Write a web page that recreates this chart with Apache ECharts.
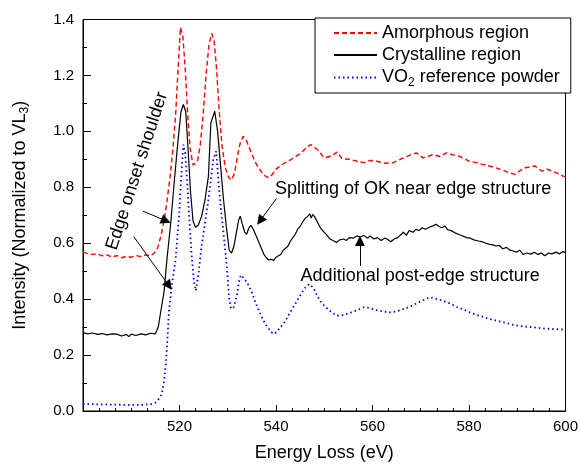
<!DOCTYPE html>
<html><head><meta charset="utf-8">
<script src="https://cdn.jsdelivr.net/npm/echarts@6/dist/echarts.min.js"></script>
<style>html,body{margin:0;padding:0;background:#fff}#c{width:581px;height:467px}</style>
</head><body><div id="c"></div>
<script>
const seriesNames = ['Amorphous region', 'Crystalline region', 'VO2 reference powder'];
const xTickLabels = [520, 540, 560, 580, 600];
const yTickLabels = ['0.0', '0.2', '0.4', '0.6', '0.8', '1.0', '1.2', '1.4'];

const amorphousE = [500,501,502,503,504,505,506,507,508,509,510,511,512,513,514,514.8,515.5,516.2,516.8,517.4,518,518.6,519.2,519.7,520.2,520.7,521.2,521.7,522.2,522.8,523.2,523.7,524.3,524.9,525.5,526.1,526.7,527.2,527.7,528.2,528.8,529.5,530.2,530.8,531.4,532,532.6,533.2,533.8,534.5,535.2,536,537,537.8,538.5,539.2,540,540.8,541.6,542.4,543.2,544,544.8,545.6,546.4,547.2,548.6,550,551.3,552.7,553.7,555.4,556.8,558.2,559.5,560.9,562.6,564.3,566.4,567.8,569.1,570.5,572.6,574,575.3,576.7,578,580.1,581.5,582.8,584.2,585.5,586.9,588.3,589.6,590.6,591.7,593.7,595.1,596.2,597.2,598.4,599.5,600];
const amorphousI = [0.568,0.563,0.56,0.562,0.555,0.558,0.55,0.556,0.548,0.553,0.55,0.556,0.552,0.558,0.555,0.565,0.585,0.63,0.68,0.75,0.83,0.93,1.06,1.22,1.372,1.34,1.22,1.06,0.94,0.88,0.873,0.89,0.95,1.06,1.2,1.31,1.35,1.32,1.22,1.08,0.95,0.87,0.835,0.826,0.85,0.91,0.96,0.982,0.97,0.94,0.91,0.88,0.855,0.84,0.834,0.845,0.865,0.875,0.885,0.893,0.9,0.91,0.918,0.93,0.943,0.953,0.935,0.905,0.911,0.926,0.902,0.9,0.893,0.888,0.896,0.893,0.886,0.888,0.905,0.915,0.923,0.905,0.917,0.91,0.923,0.916,0.911,0.893,0.888,0.882,0.876,0.87,0.862,0.852,0.846,0.86,0.87,0.876,0.858,0.865,0.858,0.85,0.84,0.838];

const crystallineE = [500,501,502,503,504,505,506,507,508,509,509.5,510,511,512,513,514,515,515.6,516.1,516.8,517.4,518.2,518.9,519.6,520.3,520.8,521.3,521.8,522.3,522.8,523.3,523.9,524.6,525.3,526,526.5,527.3,527.9,528.5,529.1,529.7,530.3,530.8,531.3,531.8,532.3,532.6,533,533.5,533.9,534.4,534.8,535.3,535.9,536.4,536.9,537.5,538,538.5,539,539.5,540,540.5,541,541.5,542,542.5,543,543.5,544,544.5,545,545.5,546,546.6,547,547.3,547.6,548,548.6,549.2,550,550.6,551.2,552,552.6,553.2,554,554.6,555.2,556,556.8,557.5,558.2,559,559.5,560.3,561,561.8,562.5,563,563.8,564.5,565.2,566,566.4,567,567.6,568.4,569,569.6,570.3,571,571.8,572.5,573.2,573.8,574.4,575,575.6,576.3,577,577.8,578.7,579.5,580.3,581,582,582.8,583.5,584.3,585,585.5,586.3,587,587.8,588.5,589,589.8,590.5,591.2,592,592.8,593.5,594.3,595,595.7,596.5,597.2,598,598.8,599.5,600];
const crystallineI = [0.28,0.276,0.279,0.274,0.277,0.272,0.276,0.275,0.268,0.274,0.266,0.275,0.27,0.276,0.272,0.278,0.276,0.3,0.354,0.426,0.543,0.675,0.817,0.95,1.07,1.096,1.07,0.93,0.78,0.68,0.657,0.665,0.697,0.757,0.84,1.03,1.072,1.0,0.88,0.76,0.66,0.575,0.565,0.59,0.64,0.685,0.697,0.67,0.64,0.632,0.655,0.664,0.65,0.626,0.605,0.585,0.56,0.548,0.54,0.543,0.538,0.55,0.555,0.56,0.575,0.582,0.59,0.608,0.62,0.632,0.65,0.66,0.675,0.688,0.697,0.705,0.69,0.703,0.695,0.675,0.655,0.639,0.628,0.615,0.608,0.603,0.612,0.615,0.61,0.62,0.618,0.626,0.622,0.628,0.618,0.626,0.615,0.62,0.61,0.618,0.615,0.605,0.615,0.62,0.632,0.64,0.628,0.645,0.639,0.65,0.645,0.655,0.65,0.657,0.662,0.668,0.66,0.655,0.662,0.648,0.645,0.638,0.632,0.626,0.62,0.618,0.612,0.608,0.605,0.6,0.596,0.594,0.59,0.592,0.58,0.585,0.575,0.573,0.568,0.575,0.56,0.565,0.561,0.568,0.56,0.565,0.555,0.565,0.562,0.568,0.562,0.57,0.566];

const vo2E = [500,503,506,509,512,514,515,515.8,516.3,516.8,517.2,517.5,517.8,518.4,519.2,519.9,520.4,520.8,521.2,521.6,522,522.5,523,523.4,524,524.5,525,526,527,527.6,528.1,528.6,529.1,529.8,530.3,530.7,531.2,531.9,532.3,532.7,533.5,534.3,535,535.7,536.3,537.2,538,539,539.7,540.5,541.8,543,544,545,546,546.9,547.8,548.5,549.5,550.7,551.7,552.7,554,555.5,557,558.2,559.5,561,562.5,563.7,565,566.5,568,569.5,571,571.9,573,574.5,576,577.5,579,580.5,582,583.5,585.5,587.5,589.5,591.5,593.5,595.5,597.5,600];
const vo2I = [0.025,0.024,0.023,0.022,0.022,0.024,0.03,0.045,0.06,0.105,0.176,0.258,0.354,0.448,0.543,0.697,0.85,0.953,0.92,0.817,0.697,0.56,0.46,0.43,0.5,0.58,0.639,0.757,0.9,0.929,0.817,0.72,0.639,0.519,0.4,0.365,0.37,0.413,0.46,0.486,0.472,0.45,0.425,0.39,0.365,0.33,0.306,0.282,0.276,0.29,0.318,0.355,0.383,0.413,0.44,0.454,0.44,0.413,0.385,0.365,0.35,0.341,0.343,0.352,0.362,0.371,0.368,0.36,0.355,0.353,0.356,0.365,0.375,0.388,0.4,0.407,0.402,0.395,0.385,0.372,0.362,0.35,0.341,0.333,0.324,0.316,0.307,0.302,0.299,0.295,0.293,0.291];

// annotation arrows: [fromE, fromI, toE, toI]
const arrows = [[512.4,0.715,517.2,0.68],[510.5,0.624,517.8,0.448],[540.1,0.76,536.7,0.68],[557.4,0.519,557.4,0.608]];
// annotation texts: [text, E, I, rotationDeg, align]
const notes = [['Edge onset shoulder',511.2,0.858,72,'center'],['Splitting of OK near edge structure',539.8,0.793,0,'left'],['Additional post-edge structure',545.1,0.483,0,'left']];

const zip = (a, b) => a.map((x, i) => [x, b[i]]);
const FONT = '"Liberation Sans", Arial, sans-serif';
const chart = echarts.init(document.getElementById('c'), null, {renderer: 'canvas'});
const option = {
  animation: false,
  backgroundColor: '#fff',
  grid: {left: 83, right: 11, top: 19.5, bottom: 54.5, show: true, borderColor: '#000', borderWidth: 1, backgroundColor: 'transparent'},
  legend: {
    orient: 'vertical', left: 315, top: 18,
    padding: [4, 11, 4, 18], itemGap: 0, itemWidth: 43, itemHeight: 14,
    backgroundColor: '#fff', borderColor: '#000', borderWidth: 1, borderRadius: 0,
    itemStyle: {opacity: 0},
    data: seriesNames,
    formatter: n => n === 'VO2 reference powder' ? '{n|VO}{s|2}{n| reference powder}' : n,
    textStyle: {fontFamily: FONT, fontSize: 18, color: '#000', lineHeight: 22,
      rich: {n: {fontFamily: FONT, fontSize: 18, color: '#000', lineHeight: 22}, s: {fontFamily: FONT, fontSize: 12, color: '#000', lineHeight: 12, padding: [11, 0, 0, 0]}}}
  },
  xAxis: {
    type: 'value', min: 500, max: 600, interval: 20,
    name: 'Energy Loss (eV)', nameLocation: 'middle', nameGap: 33,
    nameTextStyle: {fontFamily: FONT, fontSize: 18, color: '#000'},
    axisLine: {lineStyle: {color: '#000', width: 1}},
    axisTick: {inside: true, length: 6, lineStyle: {color: '#000'}},
    minorTick: {show: true, splitNumber: 6, length: 3, lineStyle: {color: '#000'}},
    splitLine: {show: false},
    axisLabel: {showMinLabel: false, margin: 8, fontFamily: FONT, fontSize: 15, color: '#000',
      formatter: v => xTickLabels.includes(v) ? String(v) : ''}
  },
  yAxis: {
    type: 'value', min: 0, max: 1.4, interval: 0.2,
    name: 'Intensity (Normalized to VL{s|3})', nameLocation: 'middle', nameGap: 52, nameRotate: 90,
    nameTextStyle: {fontFamily: FONT, fontSize: 18, color: '#000',
      rich: {s: {fontFamily: FONT, fontSize: 12, color: '#000', padding: [10, 0, 0, 0]}}},
    axisLine: {show: true, lineStyle: {color: '#000', width: 1}},
    axisTick: {show: true, inside: true, length: 8, lineStyle: {color: '#000'}},
    minorTick: {show: true, splitNumber: 2, length: 4, lineStyle: {color: '#000'}},
    splitLine: {show: false},
    axisLabel: {margin: 9, fontFamily: FONT, fontSize: 15, color: '#000',
      formatter: v => yTickLabels[Math.round(v / 0.2)]}
  },
  series: [
    {name: seriesNames[0], type: 'line', data: zip(amorphousE, amorphousI), showSymbol: false, symbol: 'none',
      lineStyle: {color: '#ff0000', width: 1.4, type: [5, 3]}, itemStyle: {color: '#ff0000'}, z: 3},
    {name: seriesNames[1], type: 'line', data: zip(crystallineE, crystallineI), showSymbol: false, symbol: 'none',
      lineStyle: {color: '#000', width: 1.2}, itemStyle: {color: '#000'}, z: 4,
      markLine: {silent: true, symbol: ['none', 'triangle'], symbolSize: 10, label: {show: false},
        itemStyle: {color: '#000'},
        lineStyle: {color: '#000', width: 1, type: 'solid'}, emphasis: {disabled: true},
        data: arrows.map(a => [{coord: [a[0], a[1]]}, {coord: [a[2], a[3]]}])}},
    {name: seriesNames[2], type: 'line', data: zip(vo2E, vo2I), showSymbol: false, symbol: 'none',
      lineStyle: {color: '#0000ff', width: 1.8, type: [1.5, 3]}, itemStyle: {color: '#0000ff'}, z: 2}
  ]
};
chart.setOption(option);
const g = notes.map(n => {
  const p = chart.convertToPixel({gridIndex: 0}, [n[1], n[2]]);
  return {type: 'text', x: p[0], y: p[1], rotation: n[3] * Math.PI / 180, z: 10,
    style: {text: n[0], fontFamily: FONT, fontSize: 18, fill: '#000', align: n[4], verticalAlign: 'middle'}};
});
chart.setOption({graphic: g});
</script></body></html>
